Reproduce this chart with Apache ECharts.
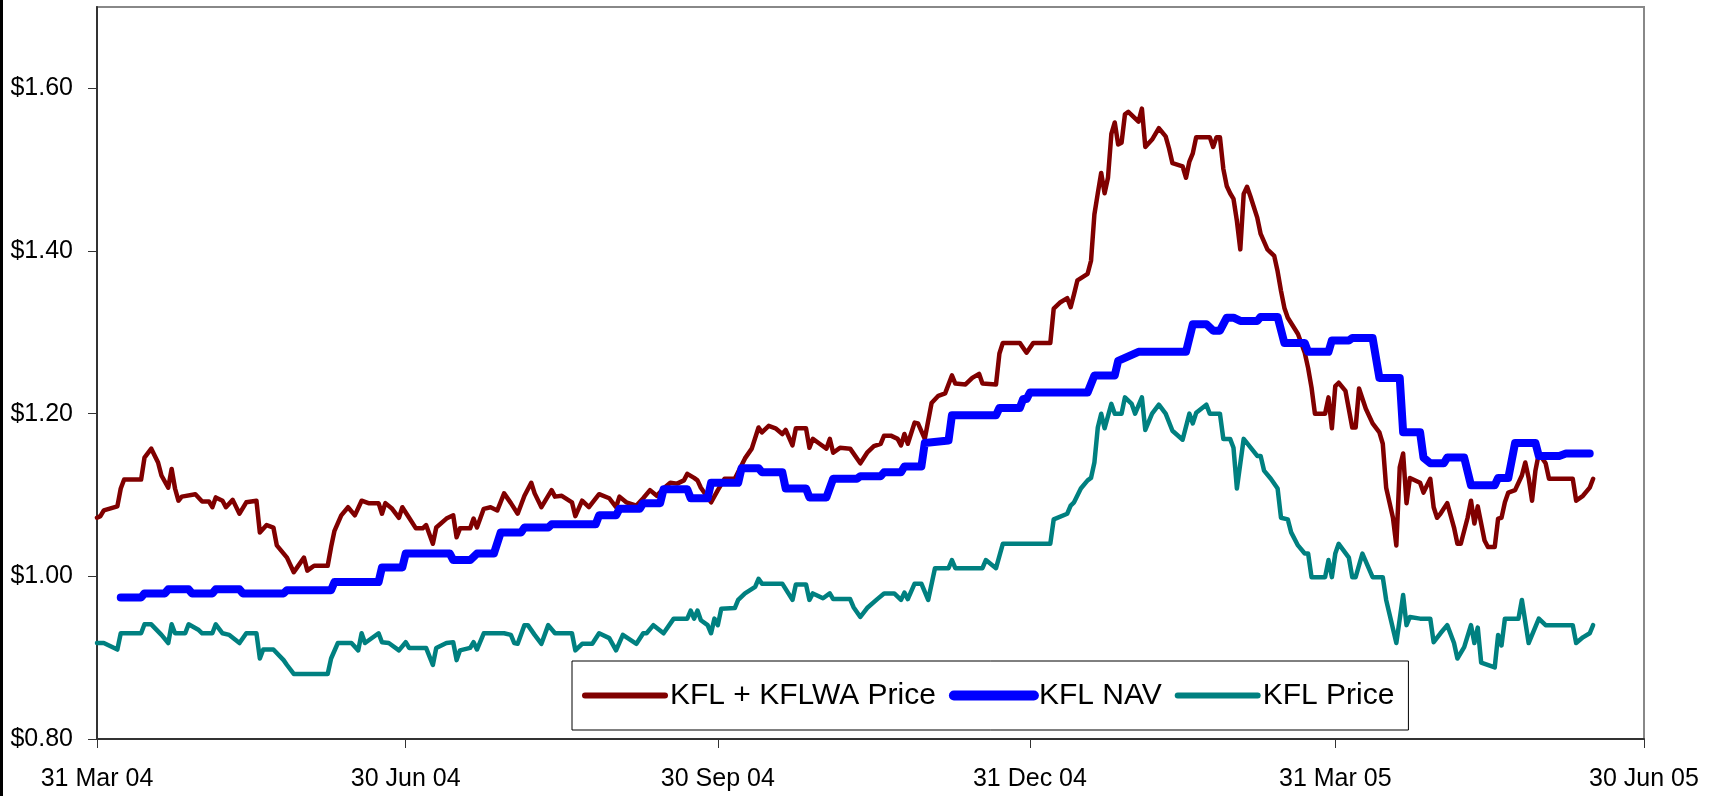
<!DOCTYPE html>
<html>
<head>
<meta charset="utf-8">
<title>KFL price and NAV</title>
<script src="https://cdn.jsdelivr.net/npm/echarts@6/dist/echarts.min.js"></script>
<style>
  html, body { margin: 0; padding: 0; background: #fff; }
  #main { width: 1717px; height: 796px; }
</style>
</head>
<body>
<div id="main"></div>
<script>
// x values are calendar days counted from 31 Mar 04
var xTickDays = [0, 91, 183, 275, 365, 456];
var xTickLabels = ['31 Mar 04', '30 Jun 04', '30 Sep 04', '31 Dec 04', '31 Mar 05', '30 Jun 05'];
var yTicks = [0.8, 1.0, 1.2, 1.4, 1.6];

// KFL + KFLWA Price
var comboDays = [0,1,2,6,7,8,13,14,16,18,19,21,22,23,24,25,29,31,33,34,35,37,38,40,42,44,47,48,50,52,53,56,58,59,61,62,63,64,68,69,70,72,74,76,78,80,83,84,85,87,89,90,92,94,96,97,99,100,103,105,106,107,110,111,112,114,116,118,120,122,124,126,128,129,131,134,135,137,140,141,143,145,148,151,153,154,156,159,161,163,165,167,169,171,173,174,176,177,178,181,183,185,188,191,193,195,196,198,200,202,203,205,206,209,210,211,213,215,216,217,219,222,225,227,229,231,232,234,236,237,238,239,241,242,244,245,246,248,250,252,253,256,258,260,261,265,266,267,272,274,276,281,282,284,286,287,288,289,292,293,294,295,296,297,298,299,300,301,302,303,304,306,307,308,309,311,313,315,316,317,320,321,322,323,324,328,329,330,331,332,333,334,335,336,337,338,339,340,342,343,345,347,348,349,350,351,354,356,357,358,359,362,363,364,365,366,368,370,371,372,374,376,378,379,380,382,383,384,385,386,387,390,391,393,394,395,396,398,400,401,402,404,405,406,407,409,410,412,413,414,415,416,418,420,421,422,423,424,425,427,428,435,436,438,440,441];
var comboPrice = [1.072,1.074,1.081,1.086,1.108,1.119,1.119,1.146,1.157,1.140,1.124,1.109,1.132,1.108,1.093,1.098,1.101,1.092,1.092,1.085,1.097,1.093,1.085,1.094,1.077,1.091,1.093,1.054,1.063,1.060,1.038,1.023,1.005,1.011,1.023,1.007,1.010,1.013,1.013,1.036,1.056,1.075,1.085,1.075,1.093,1.090,1.090,1.077,1.090,1.083,1.072,1.085,1.072,1.059,1.059,1.063,1.040,1.060,1.071,1.075,1.048,1.059,1.059,1.071,1.060,1.083,1.085,1.081,1.102,1.090,1.077,1.099,1.115,1.102,1.085,1.106,1.098,1.099,1.091,1.074,1.093,1.085,1.101,1.096,1.085,1.098,1.091,1.087,1.096,1.106,1.099,1.108,1.115,1.114,1.118,1.126,1.121,1.118,1.109,1.091,1.106,1.120,1.120,1.145,1.157,1.183,1.177,1.185,1.182,1.175,1.180,1.161,1.182,1.182,1.158,1.169,1.163,1.157,1.169,1.152,1.158,1.157,1.139,1.152,1.160,1.163,1.173,1.173,1.169,1.161,1.175,1.163,1.189,1.188,1.169,1.191,1.213,1.222,1.225,1.247,1.237,1.236,1.244,1.249,1.237,1.236,1.274,1.287,1.287,1.275,1.287,1.287,1.329,1.337,1.342,1.331,1.347,1.364,1.372,1.388,1.445,1.471,1.496,1.471,1.490,1.544,1.558,1.531,1.533,1.568,1.571,1.563,1.559,1.575,1.528,1.537,1.551,1.541,1.526,1.508,1.504,1.490,1.510,1.520,1.540,1.540,1.528,1.540,1.540,1.501,1.480,1.471,1.464,1.437,1.402,1.470,1.479,1.467,1.441,1.421,1.402,1.394,1.375,1.351,1.330,1.318,1.298,1.275,1.256,1.232,1.200,1.200,1.220,1.182,1.234,1.238,1.228,1.183,1.183,1.231,1.206,1.188,1.177,1.163,1.109,1.072,1.038,1.134,1.151,1.090,1.121,1.115,1.103,1.120,1.085,1.072,1.077,1.090,1.060,1.040,1.040,1.072,1.093,1.065,1.086,1.044,1.036,1.036,1.071,1.072,1.091,1.103,1.106,1.124,1.140,1.121,1.093,1.130,1.151,1.139,1.120,1.120,1.093,1.099,1.109,1.120];

// KFL NAV
var navDays = [7,13,14,20,21,27,28,34,35,42,43,55,56,69,70,83,84,90,91,104,105,110,112,117,119,125,126,133,134,147,148,153,154,160,161,166,167,174,175,180,181,189,190,195,196,202,203,209,210,215,217,224,225,231,232,237,238,243,244,251,252,265,266,272,273,274,275,292,294,300,301,307,321,323,327,329,331,333,335,337,342,343,348,350,356,357,363,364,369,370,376,378,384,385,390,391,393,397,398,403,405,412,413,416,418,424,425,431,433,440];
var navValue = [0.974,0.974,0.979,0.979,0.984,0.984,0.979,0.979,0.984,0.984,0.979,0.979,0.983,0.983,0.993,0.993,1.011,1.011,1.028,1.028,1.020,1.020,1.028,1.028,1.054,1.054,1.060,1.060,1.064,1.064,1.075,1.075,1.083,1.083,1.090,1.090,1.107,1.107,1.096,1.096,1.115,1.115,1.133,1.133,1.128,1.128,1.108,1.108,1.097,1.097,1.120,1.120,1.123,1.123,1.128,1.128,1.135,1.135,1.164,1.167,1.198,1.198,1.207,1.207,1.218,1.218,1.226,1.226,1.247,1.247,1.265,1.276,1.276,1.310,1.310,1.302,1.302,1.318,1.318,1.314,1.314,1.319,1.319,1.287,1.287,1.276,1.276,1.290,1.290,1.293,1.293,1.244,1.244,1.177,1.177,1.146,1.139,1.139,1.146,1.146,1.112,1.112,1.121,1.121,1.164,1.164,1.148,1.148,1.151,1.151];

// KFL Price
var kflDays = [0,2,6,7,13,14,16,19,21,22,23,26,27,30,31,34,35,37,39,42,44,47,48,49,52,55,56,58,68,69,71,75,77,78,79,83,84,86,89,91,92,97,99,100,103,105,106,107,110,111,112,114,120,122,123,124,126,127,129,131,133,135,140,141,143,146,148,151,153,155,159,161,162,164,167,170,174,175,176,177,178,180,181,182,183,184,188,189,191,194,195,196,202,205,206,209,210,211,214,216,217,222,223,225,227,230,232,235,237,238,239,241,243,245,247,251,252,253,261,262,265,267,281,282,286,287,288,290,292,293,294,295,296,297,299,300,302,303,305,306,308,309,311,313,315,317,320,322,323,324,327,328,331,332,334,335,336,338,342,343,344,346,348,349,351,352,354,356,357,358,362,363,364,365,366,369,370,371,373,376,379,380,383,385,386,387,390,393,394,396,398,400,401,403,405,406,407,408,412,413,414,415,419,420,422,425,427,435,436,438,440,441];
var kflPrice = [0.918,0.918,0.910,0.930,0.930,0.941,0.941,0.928,0.918,0.941,0.930,0.930,0.941,0.934,0.930,0.930,0.941,0.930,0.928,0.918,0.930,0.930,0.899,0.910,0.910,0.897,0.891,0.880,0.880,0.899,0.918,0.918,0.909,0.930,0.918,0.930,0.919,0.918,0.909,0.919,0.912,0.912,0.891,0.912,0.918,0.919,0.897,0.909,0.912,0.919,0.910,0.930,0.930,0.928,0.918,0.917,0.940,0.940,0.928,0.917,0.940,0.930,0.930,0.909,0.917,0.917,0.930,0.924,0.909,0.928,0.917,0.930,0.930,0.940,0.930,0.948,0.948,0.958,0.948,0.958,0.946,0.940,0.930,0.948,0.940,0.960,0.961,0.971,0.979,0.987,0.997,0.991,0.991,0.971,0.990,0.990,0.971,0.979,0.973,0.979,0.972,0.972,0.962,0.950,0.961,0.972,0.979,0.979,0.971,0.980,0.972,0.991,0.991,0.971,1.010,1.010,1.020,1.010,1.010,1.020,1.010,1.040,1.040,1.070,1.077,1.087,1.091,1.108,1.118,1.121,1.140,1.183,1.200,1.182,1.212,1.200,1.200,1.220,1.212,1.200,1.220,1.180,1.200,1.211,1.200,1.179,1.168,1.200,1.188,1.201,1.211,1.200,1.200,1.169,1.169,1.158,1.108,1.169,1.148,1.148,1.130,1.120,1.108,1.072,1.070,1.054,1.038,1.028,1.028,0.999,0.999,1.020,0.999,1.028,1.040,1.023,0.999,0.999,1.028,0.999,0.999,0.971,0.918,0.977,0.940,0.950,0.948,0.948,0.919,0.930,0.940,0.918,0.899,0.913,0.940,0.918,0.937,0.894,0.888,0.928,0.915,0.948,0.948,0.971,0.918,0.948,0.940,0.940,0.918,0.925,0.930,0.940];

function pairs(days, vals) {
  return days.map(function (d, i) { return [d, vals[i]]; });
}

var font = 'Liberation Sans, Arial, sans-serif';
var chart = echarts.init(document.getElementById('main'));

chart.setOption({
  animation: false,
  backgroundColor: '#fff',
  graphic: [
    { type: 'rect', left: 0, top: 0, shape: { width: 3, height: 796 }, style: { fill: '#000' } }
  ],
  grid: {
    left: 97, right: 73, top: 7, bottom: 57,
    show: true, borderColor: '#888', borderWidth: 2
  },
  legend: {
    left: 572, top: 661,
    padding: [18, 14, 18, 10],
    itemWidth: 80, itemHeight: 12, itemGap: 13,
    backgroundColor: '#fff', borderColor: '#000', borderWidth: 1,
    textStyle: { fontFamily: font, fontSize: 30, color: '#000', lineHeight: 33 },
    // hide the marker dot that line series put in the middle of the legend line
    data: [
      { name: 'KFL + KFLWA Price', itemStyle: { opacity: 0 }, lineStyle: { width: 6, opacity: 1 } },
      { name: 'KFL NAV', itemStyle: { opacity: 0 }, lineStyle: { width: 10, opacity: 1 } },
      { name: 'KFL Price', itemStyle: { opacity: 0 }, lineStyle: { width: 6, opacity: 1 } }
    ]
  },
  xAxis: {
    type: 'value', min: 0, max: 456,
    axisLine: { lineStyle: { color: '#333', width: 2 } },
    axisTick: { customValues: xTickDays, length: 9, lineStyle: { color: '#333', width: 1 } },
    axisLabel: {
      customValues: xTickDays, margin: 28,
      fontFamily: font, fontSize: 25, color: '#000',
      formatter: function (v) { return xTickLabels[xTickDays.indexOf(v)]; }
    },
    splitLine: { show: false }
  },
  yAxis: {
    type: 'value', min: 0.8, max: 1.7,
    axisLine: { show: true, lineStyle: { color: '#333', width: 2 } },
    axisTick: { show: true, customValues: yTicks, length: 9, lineStyle: { color: '#333', width: 1 } },
    axisLabel: {
      customValues: yTicks, margin: 24,
      fontFamily: font, fontSize: 25, color: '#000',
      formatter: function (v) { return '$' + v.toFixed(2); }
    },
    splitLine: { show: false }
  },
  series: [
    {
      name: 'KFL + KFLWA Price', type: 'line', symbol: 'none',
      data: pairs(comboDays, comboPrice),
      itemStyle: { color: '#800000' },
      lineStyle: { color: '#800000', width: 4.5, cap: 'round', join: 'round' }
    },
    {
      name: 'KFL NAV', type: 'line', symbol: 'none',
      data: pairs(navDays, navValue),
      itemStyle: { color: '#0000ff' },
      lineStyle: { color: '#0000ff', width: 8, cap: 'round', join: 'round' }
    },
    {
      name: 'KFL Price', type: 'line', symbol: 'none',
      data: pairs(kflDays, kflPrice),
      itemStyle: { color: '#008080' },
      lineStyle: { color: '#008080', width: 4.5, cap: 'round', join: 'round' }
    }
  ]
});
</script>
</body>
</html>
